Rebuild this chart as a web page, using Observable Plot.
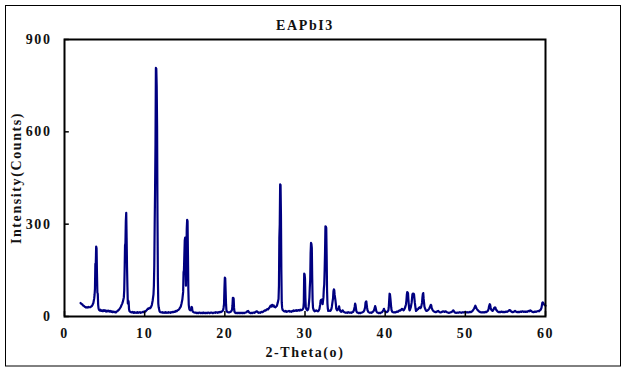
<!DOCTYPE html>
<html><head><meta charset="utf-8">
<script src="https://cdn.jsdelivr.net/npm/d3@7"></script>
<script src="https://cdn.jsdelivr.net/npm/@observablehq/plot@0.6"></script>
<style>body{margin:0;background:#fff;}</style>
</head><body><div id="chart"></div>
<script>
const title = "EAPbI3";
const xLabel = "2-Theta(o)";
const yLabel = "Intensity(Counts)";
const xTicks = [0, 10, 20, 30, 40, 50, 60];
const yTicks = [0, 300, 600, 900];

// [2-theta (deg), counts]
const scan2to12 = [
[2.0,44],[2.1,41],[2.2,40],[2.3,36],[2.4,35],[2.5,32],[2.6,31],[2.7,29],[2.8,30],[2.9,29],
[3.0,31],[3.1,30],[3.2,30],[3.3,32],[3.4,34],[3.5,38],[3.6,44],[3.7,58],[3.75,70],[3.8,90],
[3.85,171],[3.9,168],[3.95,227],[4.0,222],[4.05,140],[4.1,78],[4.15,74],[4.2,38],[4.25,26],[4.3,22],
[4.4,19],[4.5,22],[4.6,18],[4.7,20],[4.8,17],[4.9,21],[5.0,18],[5.1,20],[5.2,16],[5.3,19],
[5.4,17],[5.5,19],[5.6,16],[5.7,18],[5.8,15],[5.9,17],[6.0,14],[6.1,16],[6.2,14],[6.3,15],
[6.4,13],[6.5,16],[6.6,17],[6.7,20],[6.8,22],[6.9,26],[7.0,30],[7.1,36],[7.2,42],[7.3,50],
[7.4,62],[7.45,85],[7.5,150],[7.55,231],[7.6,238],[7.65,310],[7.7,337],[7.75,255],[7.8,160],[7.85,95],
[7.9,42],[7.95,52],[8.0,48],[8.05,24],[8.1,18],[8.2,15],[8.3,14],[8.4,13],[8.5,15],[8.6,12],
[8.7,14],[8.8,12],[8.9,13],[9.0,12],[9.1,14],[9.2,12],[9.3,13],[9.4,14],[9.5,12],[9.6,13],
[9.7,14],[9.8,15],[9.9,14],[10.0,17],[10.1,16],[10.2,19],[10.3,22],[10.4,26],[10.5,25],[10.6,28],
[10.7,27],[10.8,31],[10.9,38],[11.0,52],[11.1,72],[11.15,100],[11.2,166],[11.25,300],[11.3,415],[11.35,560],
[11.4,808],[11.45,805],[11.5,750],[11.55,620],[11.6,320],[11.65,120],[11.7,42],[11.75,30],[11.8,24],[11.85,18],
[11.9,15]
];
const scan12to22 = [
[12.0,14],[12.1,13],[12.2,14],[12.3,12],[12.4,13],[12.5,12],[12.6,14],[12.7,12],[12.8,13],[12.9,12],
[13.0,14],[13.1,13],[13.2,12],[13.3,14],[13.4,13],[13.5,15],[13.6,14],[13.7,16],[13.8,15],[13.9,18],
[14.0,17],[14.1,20],[14.2,21],[14.3,24],[14.4,28],[14.5,32],[14.6,42],[14.7,55],[14.8,80],[14.85,144],
[14.9,150],[14.95,200],[15.0,247],[15.05,256],[15.1,160],[15.15,100],[15.2,185],[15.25,285],[15.3,314],[15.35,310],
[15.4,200],[15.45,85],[15.5,38],[15.55,27],[15.6,22],[15.7,20],[15.8,24],[15.85,31],[15.9,30],[15.95,20],
[16.0,16],[16.1,14],[16.2,13],[16.3,12],[16.4,13],[16.5,11],[16.6,12],[16.7,11],[16.8,13],[16.9,12],
[17.0,11],[17.1,12],[17.2,11],[17.3,13],[17.4,11],[17.5,12],[17.6,11],[17.7,12],[17.8,11],[17.9,13],
[18.0,12],[18.1,11],[18.2,12],[18.3,13],[18.4,12],[18.5,11],[18.6,12],[18.7,13],[18.8,12],[18.9,14],
[19.0,13],[19.1,12],[19.2,14],[19.3,13],[19.4,15],[19.5,14],[19.6,16],[19.7,17],[19.8,22],[19.85,30],
[19.9,40],[19.95,90],[20.0,126],[20.05,124],[20.1,83],[20.15,40],[20.2,20],[20.3,15],[20.4,14],[20.5,13],
[20.6,14],[20.7,15],[20.8,17],[20.9,22],[20.95,35],[21.0,61],[21.05,61],[21.1,58],[21.15,28],[21.2,16],
[21.3,12],[21.4,11],[21.5,12],[21.6,11],[21.7,12],[21.8,11],[21.9,12]
];
const scan22to32 = [
[22.0,11],[22.1,12],[22.2,11],[22.3,12],[22.4,11],[22.5,12],[22.6,13],[22.7,14],[22.8,17],[22.9,18],
[23.0,14],[23.1,12],[23.2,11],[23.3,12],[23.4,11],[23.5,12],[23.6,13],[23.7,12],[23.8,14],[23.9,16],
[24.0,17],[24.1,14],[24.2,12],[24.3,13],[24.4,12],[24.5,14],[24.6,15],[24.7,14],[24.8,16],[24.9,18],
[25.0,20],[25.1,19],[25.2,22],[25.3,24],[25.4,23],[25.5,27],[25.6,30],[25.7,35],[25.8,32],[25.9,38],
[26.0,33],[26.1,36],[26.2,31],[26.3,30],[26.4,32],[26.5,35],[26.6,45],[26.7,57],[26.75,100],[26.8,256],
[26.85,300],[26.9,429],[26.95,428],[27.0,331],[27.05,150],[27.1,45],[27.15,28],[27.2,22],[27.3,19],[27.4,17],
[27.5,16],[27.6,18],[27.7,15],[27.8,16],[27.9,17],[28.0,18],[28.1,16],[28.2,17],[28.3,15],[28.4,18],
[28.5,17],[28.6,20],[28.7,18],[28.8,19],[28.9,21],[29.0,18],[29.1,20],[29.2,21],[29.3,19],[29.4,22],
[29.5,20],[29.6,21],[29.7,23],[29.8,28],[29.85,45],[29.9,139],[29.95,137],[30.0,123],[30.05,60],[30.1,30],
[30.2,22],[30.3,20],[30.4,24],[30.45,32],[30.5,45],[30.55,62],[30.6,95],[30.65,120],[30.7,205],[30.75,239],
[30.8,236],[30.85,223],[30.9,125],[30.95,52],[31.0,28],[31.1,20],[31.2,17],[31.3,18],[31.4,20],[31.5,18],
[31.6,17],[31.7,19],[31.8,24],[31.9,40],[31.95,52]
];
const scan32to42 = [
[32.0,54],[32.05,48],[32.1,55],[32.15,50],[32.2,40],[32.3,62],[32.35,90],[32.4,104],[32.45,150],[32.5,210],
[32.55,293],[32.6,292],[32.65,288],[32.7,200],[32.75,86],[32.8,42],[32.85,25],[32.9,18],[33.0,20],[33.1,18],
[33.2,19],[33.3,25],[33.35,32],[33.4,42],[33.5,60],[33.55,82],[33.6,88],[33.65,86],[33.7,70],[33.75,61],
[33.8,52],[33.85,40],[33.9,25],[34.0,20],[34.1,22],[34.2,28],[34.25,33],[34.3,27],[34.4,18],[34.5,15],
[34.6,17],[34.7,20],[34.8,16],[34.9,14],[35.0,13],[35.1,12],[35.2,13],[35.3,12],[35.4,14],[35.5,13],
[35.6,12],[35.7,13],[35.8,12],[35.9,14],[36.0,15],[36.1,20],[36.2,32],[36.25,42],[36.3,38],[36.35,28],
[36.4,18],[36.5,13],[36.6,12],[36.7,11],[36.8,12],[36.9,11],[37.0,12],[37.1,13],[37.2,14],[37.3,16],
[37.4,20],[37.5,30],[37.55,45],[37.6,48],[37.65,49],[37.7,38],[37.75,28],[37.8,20],[37.9,15],[38.0,13],
[38.1,12],[38.2,13],[38.3,12],[38.4,14],[38.5,16],[38.6,20],[38.7,28],[38.75,34],[38.8,30],[38.85,24],
[38.9,17],[39.0,13],[39.1,12],[39.2,11],[39.3,12],[39.4,11],[39.5,13],[39.6,14],[39.7,17],[39.8,22],
[39.85,25],[39.9,21],[40.0,17],[40.1,15],[40.2,14],[40.3,16],[40.4,20],[40.45,30],[40.5,52],[40.55,74],
[40.6,72],[40.65,60],[40.7,45],[40.75,30],[40.8,20],[40.9,15],[41.0,14],[41.1,13],[41.2,14],[41.3,13],
[41.4,15],[41.5,16],[41.6,15],[41.7,18],[41.8,20],[41.9,19]
];
const scan42to52 = [
[42.0,22],[42.1,25],[42.2,22],[42.3,20],[42.4,24],[42.5,30],[42.6,40],[42.65,52],[42.7,70],[42.75,79],
[42.8,78],[42.85,76],[42.9,55],[42.95,38],[43.0,24],[43.05,20],[43.1,22],[43.2,30],[43.3,45],[43.35,58],
[43.4,72],[43.45,74],[43.5,73],[43.55,74],[43.6,72],[43.65,58],[43.7,45],[43.8,25],[43.85,18],[43.9,19],
[44.0,22],[44.1,24],[44.2,28],[44.3,30],[44.4,27],[44.5,32],[44.6,45],[44.65,62],[44.7,73],[44.75,76],
[44.8,58],[44.85,45],[44.9,32],[45.0,24],[45.1,19],[45.2,18],[45.3,20],[45.4,22],[45.5,26],[45.6,32],
[45.7,38],[45.75,36],[45.8,28],[45.9,22],[46.0,18],[46.1,16],[46.2,15],[46.3,14],[46.4,15],[46.5,17],
[46.6,18],[46.7,16],[46.8,14],[46.9,13],[47.0,14],[47.1,15],[47.2,17],[47.3,16],[47.4,15],[47.5,17],
[47.6,16],[47.7,14],[47.8,13],[47.9,12],[48.0,12],[48.1,13],[48.2,14],[48.3,15],[48.4,17],[48.5,20],
[48.6,16],[48.7,13],[48.8,12],[48.9,12],[49.0,13],[49.1,12],[49.2,13],[49.3,14],[49.4,13],[49.5,12],
[49.6,13],[49.7,14],[49.8,13],[49.9,14],[50.0,15],[50.1,14],[50.2,13],[50.3,14],[50.4,13],[50.5,14],
[50.6,15],[50.7,14],[50.8,16],[50.9,18],[51.0,22],[51.1,26],[51.2,32],[51.25,35],[51.3,32],[51.4,26],
[51.5,22],[51.6,19],[51.7,17],[51.8,15],[51.9,14]
];
const scan52to60 = [
[52.0,13],[52.1,14],[52.2,13],[52.3,14],[52.4,13],[52.5,15],[52.6,14],[52.7,16],[52.8,18],[52.9,24],
[52.95,32],[53.0,36],[53.05,40],[53.1,38],[53.15,30],[53.2,24],[53.3,20],[53.4,18],[53.5,22],[53.6,28],
[53.7,30],[53.75,29],[53.8,24],[53.9,20],[54.0,17],[54.1,15],[54.2,14],[54.3,15],[54.4,14],[54.5,16],
[54.6,15],[54.7,14],[54.8,15],[54.9,14],[55.0,15],[55.1,16],[55.2,15],[55.3,17],[55.4,18],[55.5,21],
[55.6,20],[55.7,17],[55.8,15],[55.9,14],[56.0,15],[56.1,16],[56.2,18],[56.3,16],[56.4,15],[56.5,14],
[56.6,15],[56.7,14],[56.8,15],[56.9,16],[57.0,15],[57.1,17],[57.2,16],[57.3,15],[57.4,16],[57.5,15],
[57.6,16],[57.7,15],[57.8,17],[57.9,18],[58.0,17],[58.1,20],[58.2,18],[58.3,16],[58.4,15],[58.5,14],
[58.6,15],[58.7,16],[58.8,15],[58.9,16],[59.0,17],[59.1,18],[59.2,17],[59.3,20],[59.4,22],[59.5,28],
[59.55,36],[59.6,44],[59.65,46],[59.7,45],[59.8,40],[59.9,37],[60.0,35]
];

const data = [...scan2to12, ...scan12to22, ...scan22to32, ...scan32to42, ...scan42to52, ...scan52to60]
  .map(([x, y]) => ({x, y}));

const font = "'Liberation Serif', 'DejaVu Serif', serif";
const chart = Plot.plot({
  width: 627, height: 372,
  marginLeft: 64, marginRight: 82, marginTop: 39, marginBottom: 56,
  style: {fontFamily: font, fontSize: "14px", fontWeight: "bold", letterSpacing: "1.6px", color: "#111", background: "white", overflow: "visible"},
  x: {domain: [0, 60], ticks: xTicks, tickSize: 0, tickPadding: 12, label: null},
  y: {domain: [0, 900], ticks: yTicks, tickSize: 0, tickPadding: 13, label: null},
  marks: [
    Plot.line(data, {x: "x", y: "y", stroke: "#000080", strokeWidth: 2.2}),
    Plot.ruleX(xTicks, {x: d => d, y1: 0, y2: 16, stroke: "black", strokeWidth: 1.5}),
    Plot.ruleY(yTicks, {y: d => d, x1: 0, x2: 0.6, stroke: "black", strokeWidth: 1.5}),
    Plot.frame({stroke: "black", strokeWidth: 2}),
    Plot.text([title], {frameAnchor: "top", dy: -19, text: d => d, textAnchor: "middle"}),
    Plot.text([xLabel], {frameAnchor: "bottom", dy: 40, text: d => d, textAnchor: "middle"}),
    Plot.text([yLabel], {frameAnchor: "left", dx: -48, rotate: -90, text: d => d, textAnchor: "middle"})
  ]
});
d3.select(chart).append("rect")
  .attr("x", 5.5).attr("y", 5.5).attr("width", 615).attr("height", 360.5)
  .attr("fill", "none").attr("stroke", "black").attr("stroke-width", 1);
document.getElementById("chart").appendChild(chart);
</script>
</body></html>
